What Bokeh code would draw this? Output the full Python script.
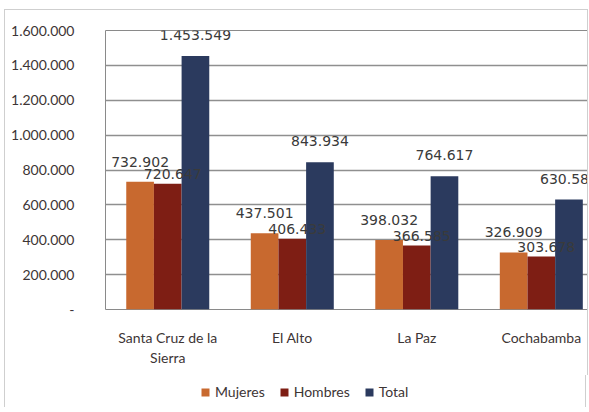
from bokeh.plotting import figure
from bokeh.models import ColumnDataSource, Range1d, FixedTicker, Legend, LegendItem
from bokeh.layouts import column
from bokeh.transform import dodge
from bokeh.embed import file_html
from bokeh.resources import INLINE
from bokeh.core.properties import value

categories = ["Santa Cruz de la\nSierra", "El Alto", "La Paz", "Cochabamba"]
mujeres = [732902, 437501, 398032, 326909]
hombres = [720647, 406433, 366585, 303678]
total = [1453549, 843934, 764617, 630587]
series_names = ["Mujeres", "Hombres", "Total"]
y_ticks = [0, 200000, 400000, 600000, 800000, 1000000, 1200000, 1400000, 1600000]
y_tick_labels = ["-", "200.000", "400.000", "600.000", "800.000", "1.000.000",
                 "1.200.000", "1.400.000", "1.600.000"]


def fmt(v):
    return f"{v:,}".replace(",", ".")


xs = [i + 0.5 for i in range(len(categories))]
src = ColumnDataSource(dict(
    x=xs,
    mujeres=mujeres, hombres=hombres, total=total,
    lm=[fmt(v) for v in mujeres],
    lh=[fmt(v) for v in hombres],
    lt=[fmt(v) for v in total],
))

colors = ["#C8692F", "#7E1E14", "#2B3A5E"]
border = "1px solid #cfcfcf"

p = figure(frame_width=482, frame_height=278, output_backend="svg", toolbar_location=None,
           x_range=Range1d(0, 3.887), y_range=Range1d(0, 1600000),
           min_border_left=100, min_border_top=20, min_border_right=0,
           min_border_bottom=67)
p.styles = {"border-left": border, "border-right": border, "border-top": border,
            "margin-left": "4px", "margin-top": "9px"}
p.background_fill_color = "white"
p.border_fill_color = "white"
p.outline_line_color = "#8a8a8a"

bw = 1 / 4.5
p.vbar(x=dodge("x", -bw, range=p.x_range), top="mujeres", width=bw, source=src,
       fill_color=colors[0], line_color=None)
p.vbar(x=dodge("x", 0, range=p.x_range), top="hombres", width=bw, source=src,
       fill_color=colors[1], line_color=None)
p.vbar(x=dodge("x", bw, range=p.x_range), top="total", width=bw, source=src,
       fill_color=colors[2], line_color=None)

lab_kw = dict(source=src, text_font=value("DejaVu Sans"), text_font_size="14px",
              text_color="#3a3a3a", text_align="center", text_baseline="middle")
p.text(x=dodge("x", -bw, range=p.x_range), y="mujeres", text="lm", y_offset=-20, **lab_kw)
p.text(x=dodge("x", 0, range=p.x_range), y="hombres", text="lh", y_offset=-10, x_offset=5, **lab_kw)
p.text(x=dodge("x", bw, range=p.x_range), y="total", text="lt", y_offset=-21, **lab_kw)

# axes
p.yaxis.ticker = FixedTicker(ticks=y_ticks)
p.yaxis.major_label_overrides = {t: l for t, l in zip(y_ticks, y_tick_labels)}
p.xaxis.ticker = FixedTicker(ticks=xs)
p.xaxis.major_label_overrides = {x: c for x, c in zip(xs, categories)}
for ax in (p.xaxis, p.yaxis):
    ax.major_label_text_font = "Lato"
    ax.major_label_text_font_size = "14px"
    ax.major_label_text_color = "#3d3535"
    ax.major_tick_line_color = None
    ax.minor_tick_line_color = None
    ax.axis_line_color = None
p.yaxis.major_label_standoff = 25
p.xaxis.major_label_standoff = 13

p.xgrid.grid_line_color = None
p.ygrid.grid_line_color = "#8f8f8f"
p.ygrid.grid_line_width = 1.5

# legend strip below the chart
lf = figure(width=582, height=32, output_backend="svg", toolbar_location=None,
            x_axis_type=None, y_axis_type=None, min_border=0,
            x_range=Range1d(0, 1), y_range=Range1d(0, 1))
lf.styles = {"border-left": border, "border-right": border, "margin-left": "4px"}
lf.outline_line_color = None
lf.background_fill_color = "white"
lf.border_fill_color = "white"
lf.xgrid.grid_line_color = None
lf.ygrid.grid_line_color = None
items = []
for name, c in zip(series_names, colors):
    r = lf.vbar(x=[-5], top=[-5], bottom=[-6], width=0.1, fill_color=c, line_color=None)
    items.append(LegendItem(label=name, renderers=[r]))
legend = Legend(items=items, orientation="horizontal", location=(95, 7),
                label_text_font="Lato", label_text_font_size="14px",
                label_text_color="#3d3535", glyph_width=10, glyph_height=10,
                spacing=14, label_standoff=5, border_line_color=None,
                background_fill_alpha=0, margin=0, padding=0)
lf.add_layout(legend, "center")

layout = column(p, lf, spacing=0)
open("out.html", "w").write(file_html(layout, INLINE))
